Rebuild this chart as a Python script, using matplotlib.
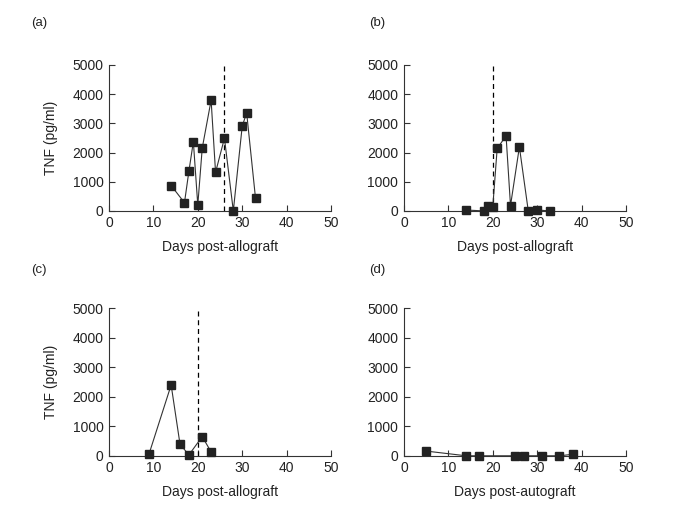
import matplotlib
matplotlib.use("Agg")
import matplotlib.pyplot as plt

plt.rcParams['font.family'] = ['Liberation Sans', 'DejaVu Sans']

# ---------------------------------------------------------------------
# DATA
# ---------------------------------------------------------------------
days_a = [14, 17, 18, 19, 20, 21, 23, 24, 26, 28, 30, 31, 33]
tnf_a  = [870, 280, 1360, 2370, 200, 2150, 3790, 1320, 2490, 0, 2900, 3360, 430]
rej_a  = 26

days_b = [14, 18, 19, 20, 21, 23, 24, 26, 28, 30, 33]
tnf_b  = [30, 0, 170, 120, 2140, 2570, 180, 2190, 0, 30, 0]
rej_b  = 20

days_c = [9, 14, 16, 18, 21, 23]
tnf_c  = [50, 2400, 390, 30, 650, 130]
rej_c  = 20

days_d = [5, 14, 17, 25, 27, 31, 35, 38]
tnf_d  = [160, 0, 0, 0, 0, 0, 0, 50]

panels = [
    ("(a)", days_a, tnf_a, rej_a, "Days post-allograft"),
    ("(b)", days_b, tnf_b, rej_b, "Days post-allograft"),
    ("(c)", days_c, tnf_c, rej_c, "Days post-allograft"),
    ("(d)", days_d, tnf_d, None,  "Days post-autograft"),
]

# axes positions in figure fraction [left, bottom, width, height]
positions = [
    [0.157, 0.584, 0.320, 0.288],
    [0.582, 0.584, 0.320, 0.288],
    [0.157, 0.101, 0.320, 0.291],
    [0.582, 0.101, 0.320, 0.291],
]
label_xy = [(0.045, 0.955), (0.532, 0.955), (0.045, 0.468), (0.532, 0.468)]

fig = plt.figure(figsize=(6.94, 5.07), dpi=100)

for i, (tag, x, y, rej, xlab) in enumerate(panels):
    ax = fig.add_axes(positions[i])
    ax.plot(x, y, color="#333333", lw=0.8, marker="s", ms=5.5,
            mfc="#222222", mec="#222222", clip_on=False, zorder=3)
    if rej is not None:
        ax.plot([rej, rej], [0, 5000], color="black", lw=0.9,
                linestyle=(0, (4, 3)), clip_on=False)
    ax.set_xlim(0, 50)
    ax.set_ylim(0, 5000)
    ax.set_xticks([0, 10, 20, 30, 40, 50])
    ax.set_yticks([0, 1000, 2000, 3000, 4000, 5000])
    for s in ["top", "right"]:
        ax.spines[s].set_visible(False)
    for s in ["left", "bottom"]:
        ax.spines[s].set_linewidth(0.8)
        ax.spines[s].set_color("#333333")
    ax.tick_params(direction="in", length=4, width=0.8, labelsize=10,
                   colors="#333333", labelcolor="#222222", pad=4)
    ax.set_xlabel(xlab, fontsize=10, color="#222222", labelpad=7)
    if i in (0, 2):
        ax.set_ylabel("TNF (pg/ml)", fontsize=10, color="#222222", labelpad=10)
    fig.text(label_xy[i][0], label_xy[i][1], tag, fontsize=9.5,
             color="#222222", ha="left", va="center")

plt.savefig("out.png", dpi=100)
plt.close()
